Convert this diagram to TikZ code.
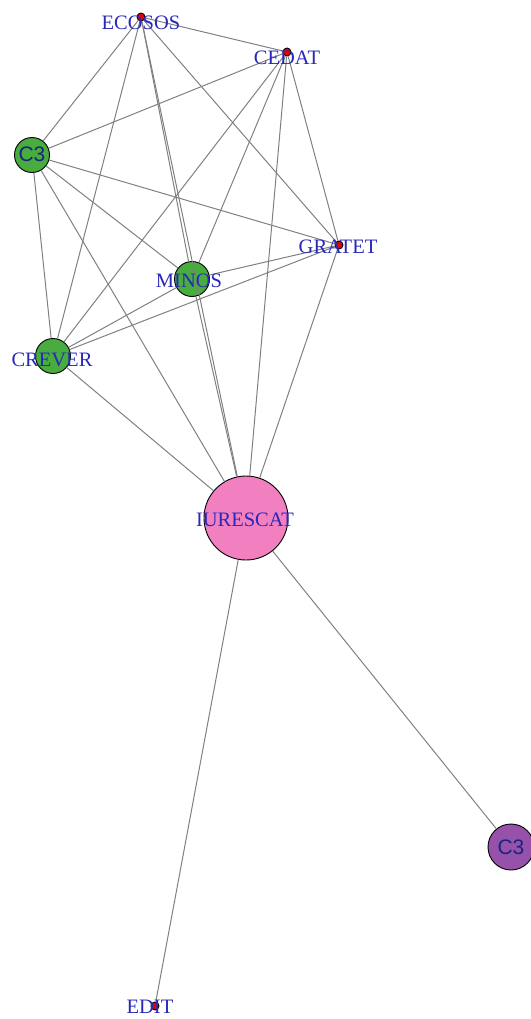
\documentclass[tikz,border=0pt]{standalone}
\usepackage{fontspec}
\setmainfont{Liberation Serif}
\setsansfont{Liberation Sans}
\definecolor{edgecol}{RGB}{128,128,128}
\definecolor{labcol}{RGB}{40,40,185}
\definecolor{darklab}{RGB}{25,35,130}
\definecolor{greenv}{RGB}{72,172,62}
\definecolor{pinkv}{RGB}{242,128,192}
\definecolor{purplev}{RGB}{150,82,170}
\definecolor{redv}{RGB}{235,0,0}
\begin{document}
\begin{tikzpicture}[x=1pt,y=-1pt,
  vert/.style={circle,draw=black,line width=0.9pt,inner sep=0pt},
  reddot/.style={vert,fill=redv,minimum size=8pt},
  greendot/.style={vert,fill=greenv,minimum size=35pt},
  pinkdot/.style={vert,fill=pinkv,minimum size=84pt},
  purpledot/.style={vert,fill=purplev,minimum size=46pt},
  lab/.style={inner sep=0pt,text=labcol,font=\fontsize{20.5}{24}\selectfont},
  slab/.style={inner sep=0pt,text=darklab,font=\sffamily\fontsize{21}{24}\selectfont},
  edge/.style={draw=edgecol,line width=1pt}]
\useasboundingbox (0,0) rectangle (530,1019);
% vertices
\node[reddot] (ecosos) at (141,17) {};
\node[reddot] (cedat) at (287,52) {};
\node[greendot] (c3a) at (32,155) {};
\node[reddot] (gratet) at (339,245) {};
\node[greendot] (minos) at (192,279) {};
\node[greendot] (crever) at (53,356) {};
\node[pinkdot] (iurescat) at (246,518) {};
\node[purpledot] (c3b) at (511,847) {};
\node[reddot] (edit) at (155,1006) {};
% edges
\foreach \a/\b in {ecosos/cedat,ecosos/c3a,ecosos/gratet,ecosos/minos,ecosos/crever,ecosos/iurescat,
  cedat/c3a,cedat/gratet,cedat/minos,cedat/crever,cedat/iurescat,
  c3a/gratet,c3a/minos,c3a/crever,c3a/iurescat,
  gratet/minos,gratet/crever,gratet/iurescat,
  minos/crever,minos/iurescat,
  crever/iurescat,
  iurescat/c3b,iurescat/edit}
  \draw[edge] (\a) -- (\b);
% labels
\node[lab] (l-ecosos) at (141,23) {ECOSOS};
\node[lab] (l-cedat) at (287,58) {CEDAT};
\node[slab] (l-c3a) at (32,154) {C3};
\node[lab] (l-gratet) at (338,247) {GRATET};
\node[lab] (l-minos) at (189,281) {MINOS};
\node[lab] (l-crever) at (52,360) {CREVER};
\node[lab] (l-iurescat) at (245,520) {IURESCAT};
\node[slab] (l-c3b) at (511,847) {C3};
\node[lab] (l-edit) at (150,1007) {EDIT};
\end{tikzpicture}
\end{document}
